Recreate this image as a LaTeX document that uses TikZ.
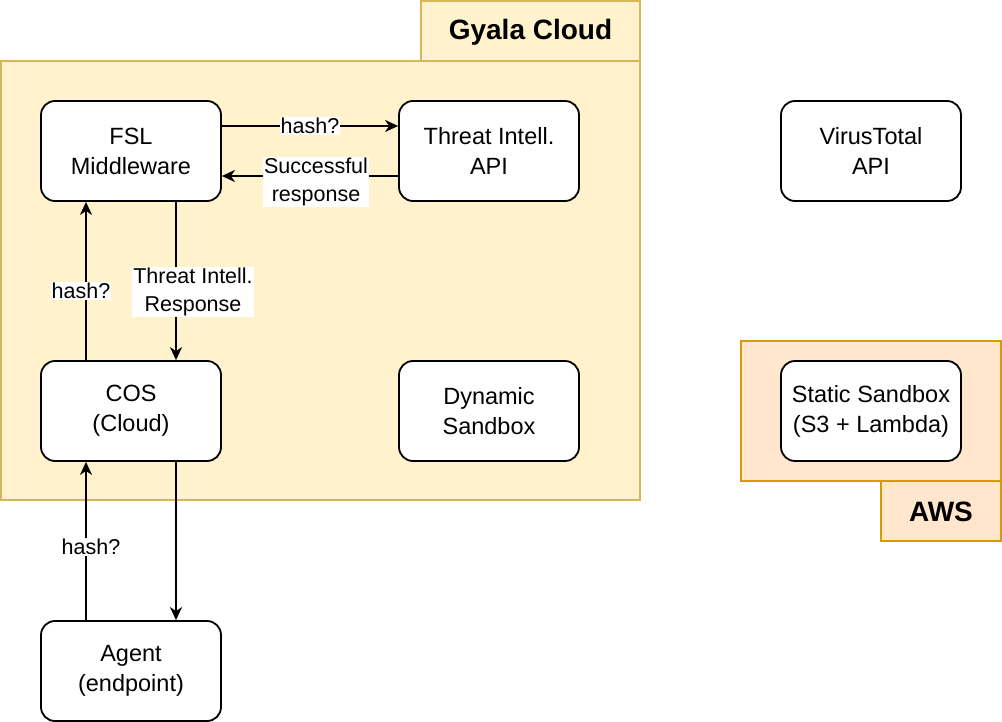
\documentclass[tikz,border=0pt]{standalone}
\usepackage{fontspec}
\setmainfont{Liberation Sans}
\usetikzlibrary{arrows.meta}
\definecolor{gyfill}{HTML}{FFF2CC}
\definecolor{gydraw}{HTML}{D6B656}
\definecolor{awfill}{HTML}{FFE6CC}
\definecolor{awdraw}{HTML}{D79B00}
\begin{document}
\begin{tikzpicture}[x=1pt,y=-1pt,
  box/.style={draw=black,fill=white,line width=1.8pt,rounded corners=14pt,minimum width=180pt,minimum height=100pt,align=center,font=\fontsize{23.5}{30}\selectfont,inner sep=0pt},
  grp/.style={line width=1.8pt},
  tab/.style={font=\bfseries\fontsize{28}{30}\selectfont},
  conn/.style={line width=1.8pt,-{Stealth[length=13pt,width=12pt,inset=4pt]}},
  lbl/.style={fill=white,inner sep=1pt,align=center,font=\fontsize{21.5}{28}\selectfont}]
\useasboundingbox (0,0) rectangle (1002,722);
% Gyala Cloud group
\path[grp,fill=gyfill,draw=gydraw] (421,1) rectangle (640,61);
\path[grp,fill=gyfill,draw=gydraw] (1,61) rectangle (640,500);
\node[tab] (gytitle) at (530.5,32) {Gyala Cloud};
% AWS group
\path[grp,fill=awfill,draw=awdraw] (741,341) rectangle (1001,481);
\path[grp,fill=awfill,draw=awdraw] (881,481) rectangle (1001,541);
\node[tab] (awtitle) at (941,512) {AWS};
% nodes
\node[box] (fsl) at (131,151) {FSL\\Middleware};
\node[box] (ti) at (489,151) {Threat Intell.\\API};
\node[box] (vt) at (871,151) {VirusTotal\\API};
\node[box] (cos) at (131,411) {COS\\(Cloud)};
\node[box] (ds) at (489,411) {Dynamic\\Sandbox};
\node[box] (ss) at (871,411) {Static Sandbox\\(S3 + Lambda)};
\node[box] (ag) at (131,671) {Agent\\(endpoint)};
% connectors
\draw[conn] ([yshift=25pt]fsl.east) -- node[lbl] {hash?} ([yshift=25pt]ti.west);
\draw[conn] ([yshift=-25pt]ti.west) -- node[lbl,yshift=-6pt,xshift=6pt] {Successful\\response} ([yshift=-25pt]fsl.east);
\draw[conn] ([xshift=-45pt]cos.north) -- node[lbl,xshift=-5pt,yshift=-10pt] {hash?} ([xshift=-45pt]fsl.south);
\draw[conn] ([xshift=45pt]fsl.south) -- node[lbl,xshift=17pt,yshift=-11pt] {Threat Intell.\\Response} ([xshift=45pt]cos.north);
\draw[conn] ([xshift=-45pt]ag.north) -- node[lbl,xshift=5pt,yshift=-6pt] {hash?} ([xshift=-45pt]cos.south);
\draw[conn] ([xshift=45pt]cos.south) -- ([xshift=45pt]ag.north);
\end{tikzpicture}
\end{document}
